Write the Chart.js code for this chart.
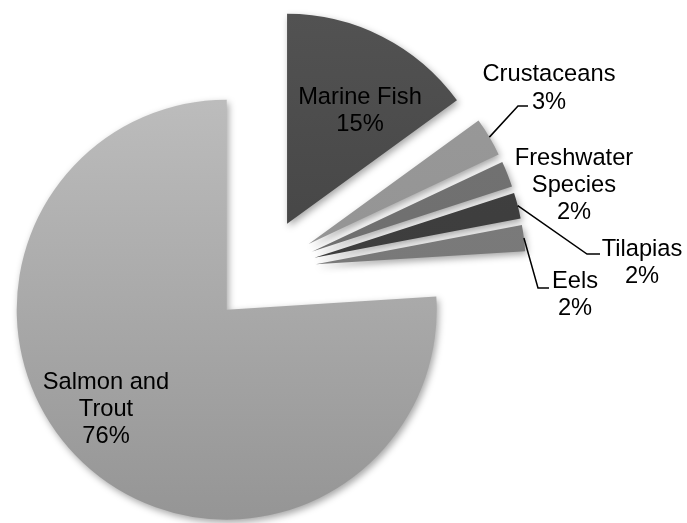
<!DOCTYPE html>
<html>
<head>
<meta charset="utf-8">
<script src="https://cdn.jsdelivr.net/npm/chart.js"></script>
<style>
  html, body { margin: 0; padding: 0; background: #fff; }
  #wrap { width: 687px; height: 523px; position: relative; }
</style>
</head>
<body>
<div id="wrap"><canvas id="myChart"></canvas></div>
<script>
// data
const categorias = ['Marine Fish', 'Crustaceans', 'Freshwater Species', 'Tilapias', 'Eels', 'Salmon and Trout'];
const valores = [15, 3, 2, 2, 2, 76];

// slice shades (top, bottom of the pie)
const tons = [
  ['#525252', '#383838'],
  ['#9a9a9a', '#8e8e8e'],
  ['#747474', '#6a6a6a'],
  ['#424242', '#383838'],
  ['#7e7e7e', '#747474'],
  ['#c4c4c4', '#959595']
];

const RAIO = 210;
const EXPLODE = 53;
const FONTE = '23.7px "Liberation Sans", Arial, sans-serif';

// label layout: lines centred at x, first line at y; leader = elbow + end
const rotulos = [
  { x: 360, y: 97 },
  { x: 549, y: 74, lines: ['Crustaceans'], leader: [[518, 106], [528, 106]], pctY: 102 },
  { x: 574, y: 158, lines: ['Freshwater', 'Species'] },
  { x: 642, y: 249, leader: [[587, 254], [600, 254]] },
  { x: 575, y: 281, leader: [[538, 288], [549, 288]] },
  { x: 106, y: 382, lines: ['Salmon and', 'Trout'] }
];

function pct(i) {
  const total = valores.reduce((a, b) => a + b, 0);
  return Math.round(valores[i] / total * 100) + '%';
}

// explode every slice: move its centre out along its own mid angle
// (the built-in offset also shrinks the angle of small slices)
const explode = {
  id: 'explode',
  afterDatasetUpdate(chart, args) {
    args.meta.data.forEach(arc => {
      const mid = (arc.startAngle + arc.endAngle) / 2;
      arc.x += Math.cos(mid) * EXPLODE;
      arc.y += Math.sin(mid) * EXPLODE;
    });
  }
};

const sombra = {
  id: 'sombra',
  beforeDatasetsDraw(chart) {
    const c = chart.ctx;
    c.save();
    c.shadowColor = 'rgba(0,0,0,0.35)';
    c.shadowBlur = 7;
    c.shadowOffsetX = 2;
    c.shadowOffsetY = 3;
  },
  afterDatasetsDraw(chart) {
    chart.ctx.restore();
  }
};

const rotulosPlugin = {
  id: 'rotulos',
  afterDatasetsDraw(chart) {
    const c = chart.ctx;
    const arcs = chart.getDatasetMeta(0).data;
    c.save();
    c.font = FONTE;
    c.fillStyle = '#000';
    c.strokeStyle = '#000';
    c.lineWidth = 1.5;
    c.textAlign = 'center';
    c.textBaseline = 'middle';
    rotulos.forEach((r, i) => {
      const arc = arcs[i];
      if (r.leader) {
        const mid = (arc.startAngle + arc.endAngle) / 2;
        c.beginPath();
        c.moveTo(arc.x + Math.cos(mid) * RAIO, arc.y + Math.sin(mid) * RAIO);
        r.leader.forEach(p => c.lineTo(p[0], p[1]));
        c.stroke();
      }
      const lines = (r.lines || [categorias[i]]).slice();
      let y = r.y;
      lines.forEach(t => { c.fillText(t, r.x, y); y += 27; });
      c.fillText(pct(i), r.x, r.pctY || y);
    });
    c.restore();
  }
};

const ctx = document.getElementById('myChart');
new Chart(ctx, {
  type: 'pie',
  data: {
    labels: categorias,
    datasets: [{
      data: valores,
      radius: RAIO,
      borderWidth: 0,
      backgroundColor: (cx) => {
        const chart = cx.chart;
        const t = tons[cx.dataIndex] || tons[0];
        if (!chart.chartArea) return t[0];
        const g = chart.ctx.createLinearGradient(0, 15, 0, 520);
        g.addColorStop(0, t[0]);
        g.addColorStop(1, t[1]);
        return g;
      }
    }]
  },
  options: {
    responsive: true,
    maintainAspectRatio: false,
    animation: false,
    layout: {
      padding: { left: 0, right: 161, top: 19, bottom: 0 }
    },
    plugins: {
      legend: { display: false },
      tooltip: { enabled: false }
    }
  },
  plugins: [explode, sombra, rotulosPlugin]
});
</script>
</body>
</html>
